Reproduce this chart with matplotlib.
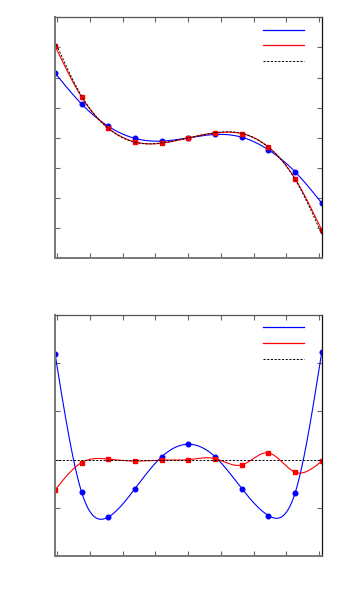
import numpy as np
import matplotlib
matplotlib.use('Agg')
import matplotlib.pyplot as plt
from matplotlib.lines import Line2D

# sample nodes (11 equispaced points on [-1, 1])
x_nodes = np.linspace(-1.0, 1.0, 11)

# top panel: values
top_blue = [2.15, 1.12, 0.38, -0.02, -0.11, 0.0, 0.11, 0.02, -0.40, -1.13, -2.17]
top_red = [3.05, 1.35, 0.32, -0.14, -0.18, 0.0, 0.16, 0.14, -0.31, -1.36, -3.07]
top_exact = [3.20, 1.38, 0.31, -0.15, -0.17, 0.0, 0.17, 0.15, -0.31, -1.38, -3.20]

# bottom panel
bot_blue = [2.20, -0.68, -1.19, -0.60, 0.06, 0.32, 0.06, -0.60, -1.16, -0.69, 2.24]
bot_red = [-0.63, -0.06, 0.01, -0.03, -0.01, 0.0, 0.02, -0.11, 0.14, -0.26, -0.03]
bot_exact = [0.0] * 11

x_ticks = np.linspace(-0.985, 0.98, 9)


# natural cubic spline, like gnuplot's "smooth csplines"
def csplines(x, y, n=400):
    x = np.asarray(x, float)
    y = np.asarray(y, float)
    k = len(x)
    h = np.diff(x)
    A = np.zeros((k, k))
    r = np.zeros(k)
    A[0, 0] = A[-1, -1] = 1.0
    for i in range(1, k - 1):
        A[i, i - 1] = h[i - 1]
        A[i, i] = 2 * (h[i - 1] + h[i])
        A[i, i + 1] = h[i]
        r[i] = 6 * ((y[i + 1] - y[i]) / h[i] - (y[i] - y[i - 1]) / h[i - 1])
    m = np.linalg.solve(A, r)
    xs = np.linspace(x[0], x[-1], n)
    j = np.clip(np.searchsorted(x, xs) - 1, 0, k - 2)
    t0 = xs - x[j]
    t1 = x[j + 1] - xs
    hj = h[j]
    ys = (m[j] * t1 ** 3 + m[j + 1] * t0 ** 3) / (6 * hj) \
        + (y[j] / hj - m[j] * hj / 6) * t1 + (y[j + 1] / hj - m[j + 1] * hj / 6) * t0
    return xs, ys


def style_axis(ax, ylim, yticks):
    ax.set_xlim(-1.003, 1.003)
    ax.set_ylim(*ylim)
    ax.set_xticks(x_ticks)
    ax.set_yticks(yticks)
    ax.tick_params(direction='in', length=3.5, width=0.8, colors='#666666',
                   top=True, right=True, labelbottom=False, labelleft=False)
    ax.spines['left'].set_color('#777777')
    ax.spines['bottom'].set_color('#777777')
    ax.spines['left'].set_linewidth(1.4)
    ax.spines['bottom'].set_linewidth(1.4)
    ax.spines['top'].set_color('#555555')
    ax.spines['right'].set_color('#111111')
    ax.spines['top'].set_linewidth(0.9)
    ax.spines['right'].set_linewidth(0.9)


def draw_panel(ax, blue, red, exact):
    xs, ys = csplines(x_nodes, blue)
    ax.plot(xs, ys, color='blue', lw=0.8)
    ax.plot(x_nodes, blue, 'o', color='blue', ms=3.3, mec='blue')
    xs, ys = csplines(x_nodes, red)
    ax.plot(xs, ys, color='red', lw=0.8)
    ax.plot(x_nodes, red, 's', color='red', ms=3.2, mec='red')
    xs, ys = csplines(x_nodes, exact)
    ax.plot(xs, ys, color='black', lw=0.7, ls=(0, (2.2, 1.6)))
    handles = [Line2D([], [], color='blue', lw=0.9),
               Line2D([], [], color='red', lw=0.9),
               Line2D([], [], color='black', lw=0.7, ls=(0, (2.2, 1.6)))]
    ax.legend(handles, ['', '', ''], loc='upper right', bbox_to_anchor=(0.932, 0.9745),
              frameon=False, fontsize=10, handlelength=2.95, handletextpad=0,
              labelspacing=0.13, borderpad=0, borderaxespad=0)


fig = plt.figure(figsize=(3.5, 5.95), dpi=100)
ax1 = fig.add_axes([0.156, 0.5659, 0.7646, 0.405])
ax2 = fig.add_axes([0.156, 0.0655, 0.7646, 0.405])

draw_panel(ax1, top_blue, top_red, top_exact)
style_axis(ax1, (-4, 4), np.arange(-4, 5, 1))
draw_panel(ax2, bot_blue, bot_red, bot_exact)
style_axis(ax2, (-2, 3), np.arange(-2, 4, 1))

fig.savefig('out.png', dpi=100)
